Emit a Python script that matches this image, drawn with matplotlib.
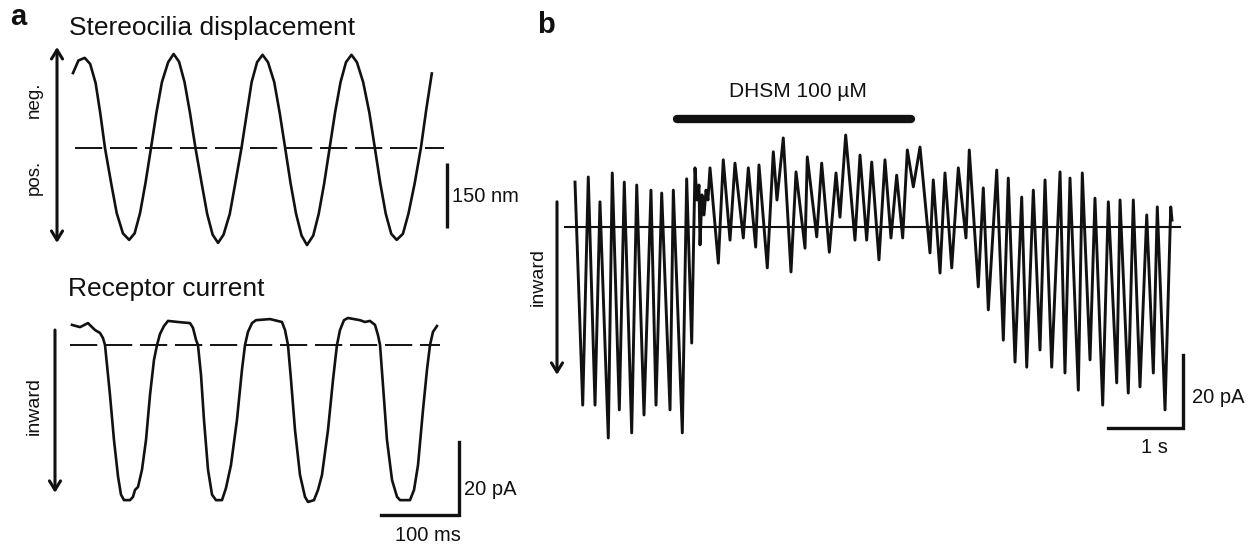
import matplotlib
matplotlib.use("Agg")
import matplotlib.pyplot as plt

plt.rcParams["font.family"] = ["Liberation Sans", "DejaVu Sans"]

INK = "#111111"
W, H = 1254, 545

# ── Panel a, top: stereocilia displacement (ms, nm) ───────────────────────────
disp_t = [0, 7, 15, 22, 29, 35, 41, 49, 56, 64, 72, 79, 86, 93, 100, 107, 114,
          122, 129, 136, 143, 150, 157, 165, 172, 179, 186, 193, 201, 208, 216,
          223, 229, 236, 243, 250, 258, 265, 272, 279, 286, 293, 300, 308, 315,
          322, 329, 336, 343, 350, 357, 364, 372, 380, 387, 394, 401, 408, 415,
          423, 430, 438, 446, 453, 460]
disp_nm = [173, 202, 208, 194, 150, 80, 0, -82, -150, -197, -212, -197, -150,
           -80, 0, 82, 152, 198, 217, 199, 152, 81, 0, -82, -152, -200, -219,
           -200, -152, -82, 0, 82, 152, 198, 215, 198, 152, 81, 0, -82, -152,
           -202, -224, -202, -152, -82, 0, 82, 152, 198, 215, 198, 152, 81, 0,
           -82, -152, -198, -212, -198, -152, -82, 0, 90, 172]

# ── Panel a, bottom: receptor current (ms, pA) ────────────────────────────────
cur_t = [0, 10.3, 20.5, 29.5, 35.9, 39.7, 42.3, 44.9, 48.7, 53.8, 59.0, 62.8,
         66.7, 74.4, 78.2, 80.8, 84.6, 89.7, 94.9, 100.0, 105.1, 109.0, 112.8,
         117.9, 123.1, 135.9, 151.3, 155.1, 159.0, 161.5, 165.4, 169.2, 174.4,
         179.5, 184.6, 192.3, 197.4, 203.8, 211.5, 217.9, 221.8, 225.6, 230.8,
         235.9, 253.8, 269.2, 273.1, 276.9, 280.8, 285.9, 292.3, 298.7, 302.6,
         310.2, 315.4, 320.5, 328.2, 334.6, 339.7, 343.6, 348.7, 353.8, 369.2,
         375.6, 382.0, 388.5, 392.3, 394.9, 398.7, 403.8, 410.3, 416.7, 420.5,
         433.3, 438.5, 443.6, 450.0, 455.1, 459.0, 462.8, 467.9]
cur_pA = [5.5, 4.9, 6.0, 4.1, 3.3, 1.9, 0, -5.5, -13.7, -26.0, -36.0, -41.0,
          -42.5, -42.5, -41.6, -39.7, -38.9, -34.2, -26.0, -13.7, -4.1, 0, 3.0,
          5.2, 6.6, 6.3, 6.0, 4.7, 1.4, 0, -8.2, -20.5, -34.2, -41.0, -42.5,
          -42.5, -39.2, -32.9, -20.5, -6.8, 0, 3.6, 6.0, 6.8, 7.1, 6.3, 4.1, 0,
          -9.6, -23.3, -35.6, -41.6, -43.0, -42.5, -39.7, -35.6, -23.3, -9.6, 0,
          4.1, 6.8, 7.4, 6.8, 6.3, 6.6, 5.5, 2.7, 0, -11.0, -26.0, -37.0, -41.6,
          -42.5, -42.5, -39.7, -32.9, -17.8, -6.8, 0, 3.6, 5.2]

# ── Panel b: current with DHSM application (s, pA), peaks and troughs ─────────
b_t = [0.000, 0.103, 0.177, 0.267, 0.333, 0.444, 0.497, 0.591, 0.657, 0.756,
       0.823, 0.920, 1.013, 1.080, 1.156, 1.267, 1.311, 1.431, 1.489, 1.556,
       1.600, 1.627, 1.653, 1.667, 1.693, 1.720, 1.747, 1.773, 1.800, 1.911,
       1.977, 2.067, 2.133, 2.244, 2.311, 2.409, 2.453, 2.564, 2.644, 2.693,
       2.777, 2.880, 2.947, 3.067, 3.097, 3.223, 3.289, 3.391, 3.480, 3.533,
       3.609, 3.733, 3.800, 3.889, 3.956, 4.053, 4.133, 4.213, 4.289, 4.369,
       4.431, 4.511, 4.600, 4.733, 4.777, 4.867, 4.933, 5.023, 5.111, 5.213,
       5.257, 5.377, 5.444, 5.511, 5.623, 5.711, 5.777, 5.867, 5.956, 6.023,
       6.111, 6.200, 6.267, 6.356, 6.467, 6.533, 6.600, 6.711, 6.764, 6.867,
       6.933, 7.036, 7.111, 7.223, 7.267, 7.377, 7.444, 7.533, 7.623, 7.711,
       7.764, 7.867, 7.943, 7.960]
b_pA = [12.3, -48.8, 13.7, -48.8, 6.9, -57.8, 14.8, -50.1, 12.3, -56.4,
        11.5, -51.5, 10.1, -48.8, 9.3, -50.1, 10.1, -56.4, 13.2, -31.8,
        16.2, 7.4, 11.5, -4.9, 8.8, 3.3, 10.1, 7.4, 16.2, -9.9,
        18.4, -3.6, 17.5, -3.0, 16.2, -5.5, 17.0, -11.2, 20.6, 7.4,
        24.4, -12.3, 15.1, -5.8, 19.2, -2.7, 17.5, -6.9, 14.8, 2.7,
        25.2, -3.6, 19.7, -3.6, 17.8, -9.0, 18.4, -3.0, 14.2, -3.0,
        21.1, 11.0, 21.9, -7.1, 12.9, -12.6, 14.8, -11.2, 16.2, -3.0,
        21.1, -16.4, 10.7, -22.7, 15.6, -31.0, 13.4, -37.0, 8.2, -38.4,
        10.1, -33.7, 12.9, -38.4, 15.1, -40.0, 13.4, -44.7, 14.8, -36.4,
        7.9, -48.8, 6.9, -42.7, 7.4, -45.5, 7.4, -43.8, 3.3, -40.0,
        5.5, -50.1, 5.5, 1.9]
DRUG_ON, DRUG_OFF = 1.36, 4.48   # s
DRUG_LABEL = "DHSM 100 µM"

SCALE_NM, SCALE_PA, SCALE_MS, SCALE_S = 150, 20, 100, 1

fig = plt.figure(figsize=(W / 100, H / 100), dpi=100)


def trace_axes(box, x_origin, x_per_px, y_origin, y_per_px):
    # box in pixels (left, right, top, bottom); origins map data 0 to a pixel
    x0, x1, y0, y1 = box
    ax = fig.add_axes([x0 / W, 1 - y1 / H, (x1 - x0) / W, (y1 - y0) / H])
    ax.set_xlim((x0 - x_origin) * x_per_px, (x1 - x_origin) * x_per_px)
    ax.set_ylim((y_origin - y1) * y_per_px, (y_origin - y0) * y_per_px)
    ax.axis("off")
    return ax


def px_text(x, y, s, **kw):
    fig.text(x / W, 1 - y / H, s, color=INK, **kw)


def arrow(ax, x, y_from, y_to, style):
    ax.annotate("", xy=(x, y_to), xytext=(x, y_from), annotation_clip=False,
                arrowprops=dict(arrowstyle=style + ",head_length=0.65,head_width=0.4",
                                lw=2.2, color=INK, shrinkA=0, shrinkB=0))


MS_PER_PX = SCALE_MS / 78
PA_PER_PX = SCALE_PA / 73

# ── a, top ────────────────────────────────────────────────────────────────────
ax1 = trace_axes((0, 520, 30, 265), 73, MS_PER_PX, 148, SCALE_NM / 65)
ax1.plot(disp_t, disp_nm, color=INK, lw=1.9)
ax1.plot([2.6, 475.6], [0, 0], color=INK, lw=1.4, linestyle=(0, (14, 4)))
ax1.plot([479.5, 479.5], [-34.6, -34.6 - SCALE_NM], color=INK, lw=2.4,
         solid_capstyle="butt")
ax1.text(486, -113, f"{SCALE_NM} nm", fontsize=14.5, ha="left", va="center", color=INK)
arrow(ax1, -20.5, -219, 233, "<->")
ax1.text(-50, 111, "neg.", rotation=90, fontsize=13.5, ha="center", va="center", color=INK)
ax1.text(-50, -67, "pos.", rotation=90, fontsize=13.5, ha="center", va="center", color=INK)

# ── a, bottom ─────────────────────────────────────────────────────────────────
ax2 = trace_axes((0, 520, 300, 545), 72, MS_PER_PX, 345, PA_PER_PX)
ax2.plot(cur_t, cur_pA, color=INK, lw=1.9)
ax2.plot([-2.6, 471.8], [0, 0], color=INK, lw=1.4, linestyle=(0, (14, 4)))
ax2.plot([396, 496, 496], [-46.6, -46.6, -46.6 + SCALE_PA], color=INK, lw=2.4,
         solid_joinstyle="miter")
ax2.text(502.6, -39.7, f"{SCALE_PA} pA", fontsize=14.5, ha="left", va="center", color=INK)
ax2.text(456, -52.1, f"{SCALE_MS} ms", fontsize=14.5, ha="center", va="center", color=INK)
arrow(ax2, -21.8, 4.1, -40.5, "->")
ax2.text(-48.7, -16.7, "inward", rotation=90, fontsize=14, ha="center", va="center", color=INK)

# ── b ─────────────────────────────────────────────────────────────────────────
ax3 = trace_axes((525, 1254, 60, 470), 575, SCALE_S / 75, 227, PA_PER_PX)
ax3.plot(b_t, b_pA, color=INK, lw=2.1)
ax3.plot([-0.133, 8.067], [0, 0], color=INK, lw=1.5)
ax3.plot([DRUG_ON, DRUG_OFF], [29.6, 29.6], color=INK, lw=6, solid_capstyle="round")
ax3.text((DRUG_ON + DRUG_OFF) / 2 + 0.05, 37.0, DRUG_LABEL, fontsize=15,
         ha="center", va="center", color=INK)
ax3.plot([7.107, 8.107, 8.107], [-55.1, -55.1, -55.1 + SCALE_PA], color=INK, lw=2.4,
         solid_joinstyle="miter")
ax3.text(8.227, -46.6, f"{SCALE_PA} pA", fontsize=14.5, ha="left", va="center", color=INK)
ax3.text(7.72, -60.5, f"{SCALE_S} s", fontsize=14.5, ha="center", va="center", color=INK)
arrow(ax3, -0.24, 6.9, -40.5, "->")
ax3.text(-0.493, -13.7, "inward", rotation=90, fontsize=14, ha="center", va="center", color=INK)

# ── titles and panel letters ──────────────────────────────────────────────────
px_text(10, 25, "a", fontsize=21, fontweight="bold", va="baseline")
px_text(537, 33, "b", fontsize=21, fontweight="bold", va="baseline")
px_text(69, 35, "Stereocilia displacement", fontsize=19, va="baseline")
px_text(68, 296, "Receptor current", fontsize=19, va="baseline")

fig.savefig("out.png", dpi=100, facecolor="white")
